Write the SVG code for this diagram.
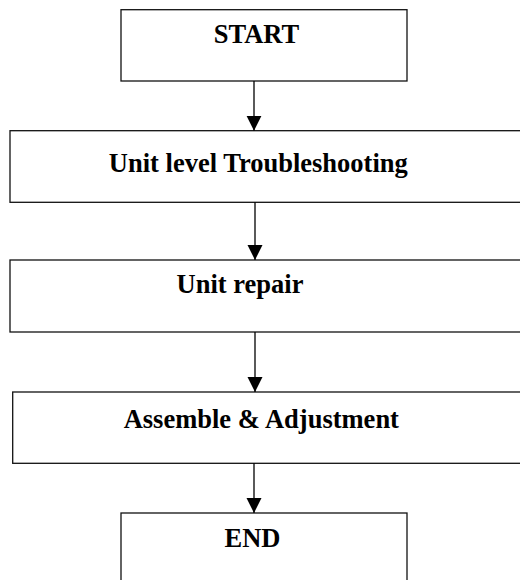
<svg xmlns="http://www.w3.org/2000/svg" width="520" height="580" viewBox="0 0 520 580">
<defs>
<style>
.box{fill:#fff;stroke:#111;stroke-width:1.3}
.lbl{font-family:"Liberation Serif","Times New Roman",serif;font-weight:bold;font-size:26.5px;fill:#000;text-anchor:middle}
.con{stroke:#000;stroke-width:1.3;fill:none;marker-end:url(#ah)}
</style>
<marker id="ah" markerUnits="userSpaceOnUse" markerWidth="16" markerHeight="16" refX="15" refY="7.5" orient="auto">
<path d="M0,0 L15,7.5 L0,15 z" fill="#000"/>
</marker>
</defs>
<rect width="520" height="580" fill="#fff"/>
<g id="start">
<rect class="box" x="121" y="9.7" width="286" height="71.3"/>
<text class="lbl" x="256.5" y="43.3">START</text>
</g>
<g id="troubleshooting">
<rect class="box" x="10" y="130.7" width="530" height="71.6"/>
<text class="lbl" x="258.3" y="171.7">Unit level Troubleshooting</text>
</g>
<g id="repair">
<rect class="box" x="10" y="260" width="530" height="72"/>
<text class="lbl" x="240" y="292.7">Unit repair</text>
</g>
<g id="assemble">
<rect class="box" x="12.7" y="392" width="530" height="71.3"/>
<text class="lbl" x="261.3" y="428.3">Assemble &amp; Adjustment</text>
</g>
<g id="end">
<rect class="box" x="121" y="513" width="286" height="80"/>
<text class="lbl" x="252.5" y="547">END</text>
</g>
<g id="connectors">
<line class="con" x1="254" y1="81" x2="254" y2="130.7"/>
<line class="con" x1="255" y1="202.3" x2="255" y2="260"/>
<line class="con" x1="255" y1="332" x2="255" y2="392"/>
<line class="con" x1="254" y1="463.3" x2="254" y2="513"/>
</g>
</svg>
